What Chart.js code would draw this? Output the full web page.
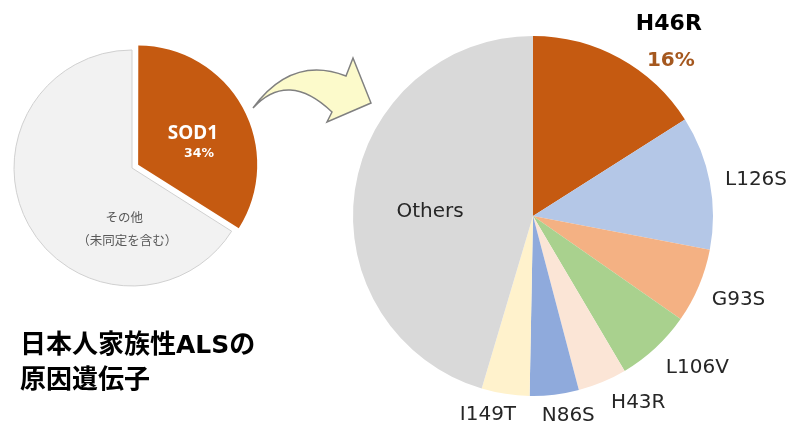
<!DOCTYPE html>
<html><head><meta charset="utf-8">
<script src="https://cdn.jsdelivr.net/npm/chart.js@4.4.1/dist/chart.umd.min.js"></script>
<style>
html,body{margin:0;padding:0;background:#fff;}
#wrap{position:relative;width:789px;height:434px;overflow:hidden;background:#fff;}
canvas{position:absolute;left:0;top:0;}
#title{position:absolute;left:20px;top:326px;font-family:"Noto Sans CJK JP";font-weight:bold;font-size:26px;line-height:32px;color:#000;white-space:nowrap;}
#title .lat{font-family:"DejaVu Sans";font-size:25px;}
</style></head><body>
<div id="wrap">
<canvas id="c1" width="789" height="434"></canvas>
<canvas id="c2" width="789" height="434"></canvas>
<div id="title">日本人家族性<span class="lat">ALS</span>の<br>原因遺伝子</div>
</div>
<script>
// ---- data ----
const leftLabels = ['SOD1', 'その他'];
const leftSubLabels = ['', '（未同定を含む）'];
const leftValues = [34, 66];
const rightLabels = ['H46R', 'L126S', 'G93S', 'L106V', 'H43R', 'N86S', 'I149T', 'Others'];
const rightValues = [16, 12, 6.7, 6.8, 4.4, 4.4, 4.3, 45.4];

const leftColors = ['#C55A11', '#F2F2F2'];
const rightColors = ['#C55A11', '#B4C7E7', '#F4B183', '#A9D18E', '#FBE5D6', '#8FAADC', '#FFF2CC', '#D9D9D9'];

const pct = v => Math.round(v) + '%';

// ---- label plugin ----
const sliceLabels = {
  id: 'sliceLabels',
  afterDatasetsDraw(chart, args, opts) {
    const ctx = chart.ctx;
    const meta = chart.getDatasetMeta(0);
    const ds = chart.data.datasets[0];
    (opts.items || []).forEach(it => {
      const arc = meta.data[it.index];
      const p = arc.getProps(['x', 'y', 'startAngle', 'endAngle', 'outerRadius'], true);
      const mid = (p.startAngle + p.endAngle) / 2;
      const offRaw = Array.isArray(ds.offset) ? ds.offset[it.index] : (ds.offset || 0);
      const off = offRaw / 4;
      const cx = p.x + Math.cos(mid) * off, cy = p.y + Math.sin(mid) * off;
      let w = 0, h = 0;
      it.lines.forEach(l => { ctx.font = l.font; w = Math.max(w, ctx.measureText(l.text).width); h += l.height; });
      let x, y;
      if (it.mode === 'outside') {
        const d = p.outerRadius + it.pad;
        x = cx + Math.cos(mid) * (d + w / 2);
        y = cy + Math.sin(mid) * d + Math.sin(mid) * h / 2;
      } else {
        const d = p.outerRadius * it.rFrac;
        x = cx + Math.cos(mid) * d;
        y = cy + Math.sin(mid) * d;
      }
      x += it.nudge[0]; y += it.nudge[1];
      let ty = y - h / 2;
      ctx.save();
      ctx.textAlign = 'center';
      ctx.textBaseline = 'middle';
      it.lines.forEach(l => {
        ctx.font = l.font; ctx.fillStyle = l.color;
        ctx.fillText(l.text, x + (l.dx || 0), ty + l.height / 2);
        ty += l.height;
      });
      ctx.restore();
    });
  }
};

// ---- arrow plugin ----
const arrowPlugin = {
  id: 'arrow',
  afterDraw(chart) {
    const ctx = chart.ctx;
    ctx.save();
    ctx.beginPath();
    ctx.moveTo(253, 108);
    ctx.quadraticCurveTo(292, 55, 346, 76);
    ctx.lineTo(353, 58);
    ctx.lineTo(371, 103);
    ctx.lineTo(327, 122);
    ctx.lineTo(332, 112);
    ctx.quadraticCurveTo(288, 70, 253, 108);
    ctx.closePath();
    ctx.fillStyle = '#FCFACB';
    ctx.fill();
    ctx.lineWidth = 1.5;
    ctx.strokeStyle = '#808080';
    ctx.lineJoin = 'miter';
    ctx.stroke();
    ctx.restore();
  }
};

const latin = 'DejaVu Sans';
const cjk = '"Noto Sans CJK JP"';

new Chart(document.getElementById('c1'), {
  type: 'pie',
  data: {
    labels: leftLabels,
    datasets: [{
      data: leftValues,
      backgroundColor: leftColors,
      borderColor: ['#FFFFFF', '#D0D0D0'],
      borderWidth: [0, 1],
      offset: [28, 0],
      radius: 118
    }]
  },
  options: {
    responsive: false,
    animation: false,
    layout: { padding: { left: 0, right: 525, top: 0, bottom: 98 } },
    plugins: {
      legend: { display: false },
      tooltip: { enabled: false },
      sliceLabels: {
        items: [
          { index: 0, mode: 'inside', rFrac: 0.55, nudge: [1, 10.5], lines: [
            { text: leftLabels[0], font: 'bold 19px "Noto Sans"', color: '#FFFFFF', height: 20, dx: -3 },
            { text: pct(leftValues[0]), font: 'bold 12.5px ' + latin, color: '#FFFFFF', height: 20, dx: 3 }
          ]},
          { index: 1, mode: 'inside', rFrac: 0.55, nudge: [51, 29], lines: [
            { text: leftLabels[1], font: '12.5px ' + cjk, color: '#595959', height: 23, dx: -2 },
            { text: leftSubLabels[1], font: '12.5px ' + cjk, color: '#595959', height: 23, dx: 1 }
          ]}
        ]
      }
    }
  },
  plugins: [sliceLabels, arrowPlugin]
});

const outFont = '20px ' + latin;
const outColor = '#262626';
new Chart(document.getElementById('c2'), {
  type: 'pie',
  data: {
    labels: rightLabels,
    datasets: [{
      data: rightValues,
      backgroundColor: rightColors,
      borderWidth: 0,
      radius: 180
    }]
  },
  options: {
    responsive: false,
    animation: false,
    layout: { padding: { left: 277, right: 0, top: 0, bottom: 2 } },
    plugins: {
      legend: { display: false },
      tooltip: { enabled: false },
      sliceLabels: {
        items: [
          { index: 0, mode: 'outside', pad: 14, nudge: [26.5, 28], lines: [
            { text: rightLabels[0], font: 'bold 22px ' + latin, color: '#000000', height: 36 },
            { text: pct(rightValues[0]), font: 'bold 20px ' + latin, color: '#A5581F', height: 36, dx: 2 }
          ]},
          { index: 1, mode: 'outside', pad: 14, nudge: [2, 2], lines: [{ text: rightLabels[1], font: outFont, color: outColor, height: 20 }] },
          { index: 2, mode: 'outside', pad: 14, nudge: [2, 5], lines: [{ text: rightLabels[2], font: outFont, color: outColor, height: 20 }] },
          { index: 3, mode: 'outside', pad: 14, nudge: [11, 2.5], lines: [{ text: rightLabels[3], font: outFont, color: outColor, height: 20 }] },
          { index: 4, mode: 'outside', pad: 14, nudge: [20, -1.5], lines: [{ text: rightLabels[4], font: outFont, color: outColor, height: 20 }] },
          { index: 5, mode: 'outside', pad: 14, nudge: [9, -2.5], lines: [{ text: rightLabels[5], font: outFont, color: outColor, height: 20 }] },
          { index: 6, mode: 'outside', pad: 14, nudge: [-11, -2.5], lines: [{ text: rightLabels[6], font: outFont, color: outColor, height: 20 }] },
          { index: 7, mode: 'inside', rFrac: 0.55, nudge: [-5, 10.5], lines: [{ text: rightLabels[7], font: outFont, color: outColor, height: 20 }] }
        ]
      }
    }
  },
  plugins: [sliceLabels]
});
</script>
</body></html>
